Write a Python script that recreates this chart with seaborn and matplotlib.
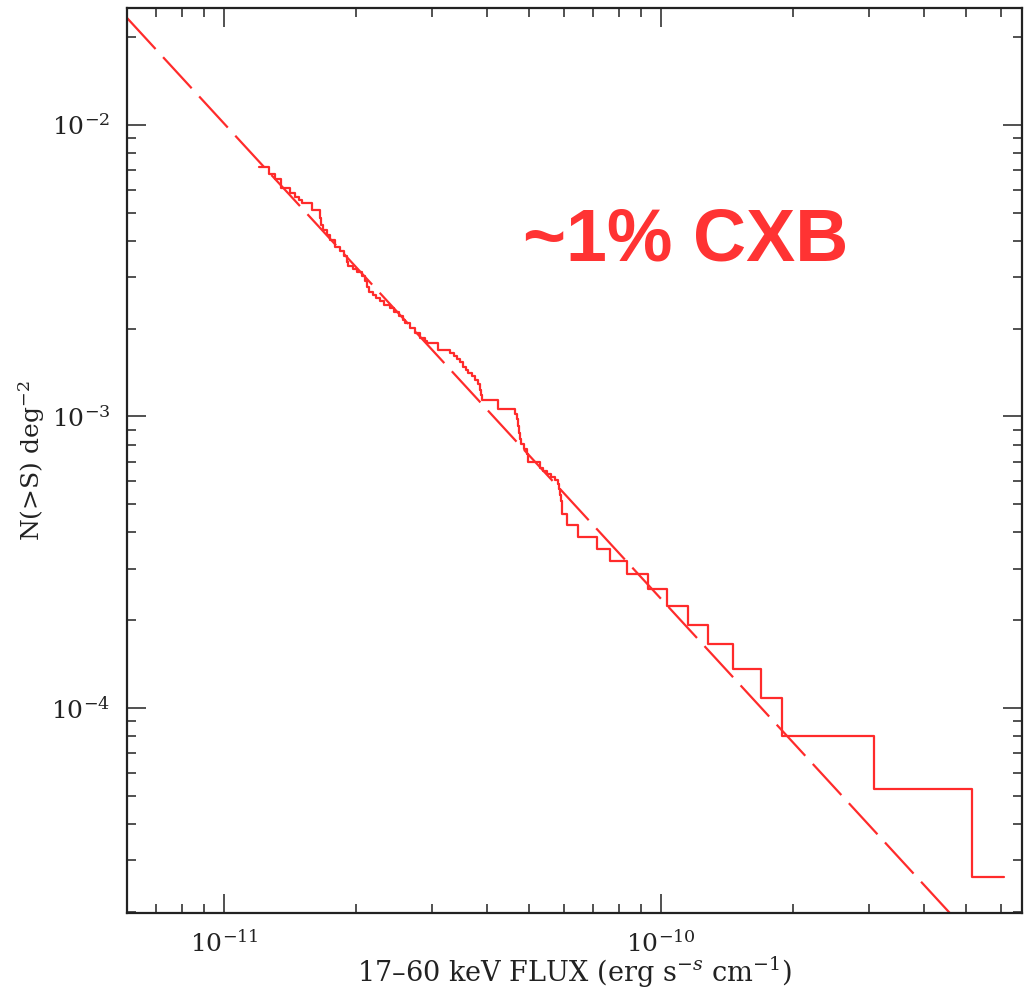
import matplotlib
matplotlib.use("Agg")
import matplotlib.pyplot as plt
from matplotlib.ticker import FixedLocator, LogLocator, LogFormatterMathtext, NullFormatter
import pandas as pd
import seaborn as sns

# Cumulative source counts: flux where each step starts (erg s^-1 cm^-2)
flux = [
    1.202e-11, 1.268e-11, 1.308e-11, 1.350e-11, 1.416e-11, 1.454e-11, 1.484e-11, 1.508e-11,
    1.590e-11, 1.659e-11, 1.667e-11, 1.685e-11, 1.721e-11, 1.748e-11, 1.795e-11, 1.843e-11,
    1.882e-11, 1.912e-11, 1.922e-11, 1.973e-11, 2.015e-11, 2.069e-11, 2.102e-11, 2.124e-11,
    2.147e-11, 2.193e-11, 2.228e-11, 2.275e-11, 2.323e-11, 2.398e-11, 2.449e-11, 2.515e-11,
    2.568e-11, 2.596e-11, 2.665e-11, 2.736e-11, 2.809e-11, 2.884e-11, 2.914e-11, 3.088e-11,
    3.290e-11, 3.360e-11, 3.414e-11, 3.467e-11, 3.523e-11, 3.579e-11, 3.617e-11, 3.694e-11,
    3.753e-11, 3.813e-11, 3.853e-11, 3.874e-11, 3.894e-11, 4.236e-11, 4.634e-11, 4.683e-11,
    4.708e-11, 4.733e-11, 4.757e-11, 4.783e-11, 4.859e-11, 4.937e-11, 4.963e-11, 5.285e-11,
    5.370e-11, 5.484e-11, 5.601e-11, 5.720e-11, 5.811e-11, 5.842e-11, 5.873e-11, 5.904e-11,
    5.935e-11, 6.095e-11, 6.458e-11, 7.137e-11, 7.643e-11, 8.361e-11, 9.340e-11, 1.032e-10,
    1.153e-10, 1.281e-10, 1.461e-10, 1.693e-10, 1.892e-10, 3.072e-10, 5.148e-10, 6.095e-10,
]

# N(>S) level of each step (deg^-2)
n_gt_s = [
    7.158e-3, 6.773e-3, 6.510e-3, 6.063e-3, 5.828e-3, 5.646e-3, 5.514e-3, 5.385e-3,
    5.095e-3, 4.784e-3, 4.526e-3, 4.350e-3, 4.182e-3, 4.020e-3, 3.804e-3, 3.685e-3,
    3.542e-3, 3.378e-3, 3.273e-3, 3.196e-3, 3.121e-3, 3.024e-3, 2.907e-3, 2.772e-3,
    2.665e-3, 2.602e-3, 2.542e-3, 2.482e-3, 2.404e-3, 2.349e-3, 2.275e-3, 2.204e-3,
    2.136e-3, 2.086e-3, 2.005e-3, 1.927e-3, 1.853e-3, 1.809e-3, 1.781e-3, 1.685e-3,
    1.645e-3, 1.607e-3, 1.569e-3, 1.532e-3, 1.484e-3, 1.439e-3, 1.405e-3, 1.372e-3,
    1.329e-3, 1.288e-3, 1.228e-3, 1.181e-3, 1.135e-3, 1.065e-3, 1.016e-3, 9.766e-4,
    9.313e-4, 8.812e-4, 8.403e-4, 8.077e-4, 7.764e-4, 7.464e-4, 6.953e-4, 6.683e-4,
    6.527e-4, 6.374e-4, 6.223e-4, 6.076e-4, 5.888e-4, 5.660e-4, 5.397e-4, 5.148e-4,
    4.645e-4, 4.257e-4, 3.873e-4, 3.523e-4, 3.204e-4, 2.891e-4, 2.567e-4, 2.245e-4,
    1.932e-4, 1.662e-4, 1.364e-4, 1.085e-4, 8.034e-5, 5.284e-5, 2.636e-5, 2.636e-5,
]

# Power-law reference line, given by its two end points
fit_flux = [6.0e-12, 4.58e-10]
fit_n = [2.33e-2, 1.98e-5]

x_limits = (6.0e-12, 6.7e-10)
y_limits = (1.98e-5, 2.52e-2)
x_major = [1e-11, 1e-10]
y_major = [1e-4, 1e-3, 1e-2]

sns.set_theme(style="ticks")
plt.rcParams["font.family"] = ["DejaVu Serif"]
plt.rcParams["mathtext.fontset"] = "dejavuserif"

red = "#ff2b2b"
ink = "#222222"

fig = plt.figure(figsize=(10.25, 9.92), dpi=100)
ax = fig.add_axes([127 / 1025, 1 - 913 / 992, 895 / 1025, 905 / 992])
ax.set_xscale("log")
ax.set_yscale("log")

counts = pd.DataFrame({"flux": flux, "n": n_gt_s})
sns.lineplot(data=counts, x="flux", y="n", ax=ax, estimator=None, sort=False,
             drawstyle="steps-post", color=red, linewidth=1.6)

fit = pd.DataFrame({"flux": fit_flux, "n": fit_n})
sns.lineplot(data=fit, x="flux", y="n", ax=ax, estimator=None, sort=False,
             color=red, linewidth=1.6)
ax.lines[-1].set_dashes([19, 5])

ax.set_xlim(*x_limits)
ax.set_ylim(*y_limits)

for axis, majors in ((ax.xaxis, x_major), (ax.yaxis, y_major)):
    axis.set_major_locator(FixedLocator(majors))
    axis.set_minor_locator(LogLocator(base=10, subs=range(2, 10), numticks=20))
    axis.set_major_formatter(LogFormatterMathtext())
    axis.set_minor_formatter(NullFormatter())

ax.tick_params(which="both", direction="in", top=True, right=True,
               labeltop=False, labelright=False, color=ink, width=1.1)
ax.tick_params(which="major", length=14, pad=12, labelsize=18, labelcolor=ink)
ax.tick_params(which="minor", length=6.5)
for spine in ax.spines.values():
    spine.set_linewidth(1.6)
    spine.set_color(ink)

ax.set_xlabel("17\u201360 keV FLUX (erg s$^{-s}$ cm$^{-1}$)", fontsize=19.5,
              color=ink, labelpad=-1)
ax.set_ylabel("N(>S) deg$^{-2}$", fontsize=18, color=ink, labelpad=3)

ax.text(0.4425, 0.7215, "~1% CXB", transform=ax.transAxes, fontsize=53,
        fontweight="bold", family="Liberation Sans", color="#ff3333",
        ha="left", va="baseline")

fig.savefig("out.png", dpi=100)
